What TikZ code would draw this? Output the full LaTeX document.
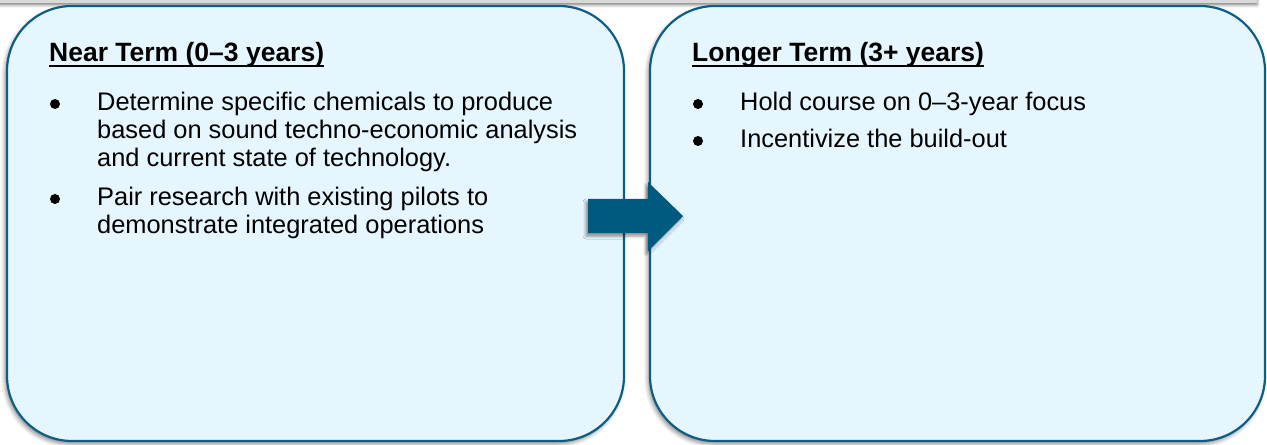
\documentclass[tikz,border=0pt]{standalone}
\usepackage{fontspec}
\setmainfont{Liberation Sans}
\usetikzlibrary{shadows.blur}
\definecolor{boxline}{RGB}{14,93,134}
\definecolor{boxfill}{RGB}{230,246,254}
\definecolor{arrowblue}{RGB}{0,90,128}
\begin{document}
\begin{tikzpicture}[x=1bp,y=-1bp]
\tikzset{
 panel/.style={draw=boxline, line width=2.2bp, fill=boxfill, rounded corners=65bp, inner sep=0pt,
   blur shadow={shadow xshift=-2bp, shadow yshift=-3bp, shadow blur radius=4bp, shadow opacity=45}},
 heading/.style={anchor=base west, inner sep=0pt, font=\fontsize{26.5bp}{30bp}\selectfont\bfseries},
 bodytext/.style={anchor=base west, inner sep=0pt, font=\fontsize{25.4bp}{28bp}\selectfont},
 bulletmark/.style={circle, fill=black, inner sep=0pt, minimum size=10bp},
 uline/.style={line width=2.4bp},
}
\useasboundingbox (0,0) rectangle (1267,445);
% top strip (bottom edge of a box above)
\fill[gray!30, blur shadow={shadow xshift=0bp, shadow yshift=-2bp, shadow blur radius=3bp, shadow opacity=50}] (-20,-30) rectangle (1257,3);
% panels
\node[panel, minimum width=617bp, minimum height=435bp] (near) at (315.5,223.5) {};
\node[panel, minimum width=615bp, minimum height=435bp] (long) at (957.5,223.5) {};
% arrow
\fill[arrowblue, blur shadow={shadow xshift=-2bp, shadow yshift=-3bp, shadow blur radius=3bp, shadow opacity=45}]
  (588,199) -- (648,199) -- (648,182) -- (683,216) -- (648,251) -- (648,233) -- (588,233) -- cycle;
% headings
\node[heading] (h1) at (49,62) {Near Term (0–3 years)};
\draw[uline] ([yshift=-4bp]h1.base west) -- ([yshift=-4bp]h1.base east);
\node[heading] (h2) at (692,62) {Longer Term (3+ years)};
\draw[uline] ([yshift=-4bp]h2.base west) -- ([yshift=-4bp]h2.base east);
% left bullets
\node[bulletmark] (b1) at (55,104) {};
\node[bodytext] (t1a) at (97,111) {Determine specific chemicals to produce};
\node[bodytext] (t1b) at (97,139) {based on sound techno-economic analysis};
\node[bodytext] (t1c) at (97,167) {and current state of technology.};
\node[bulletmark] (b2) at (55,199) {};
\node[bodytext] (t2a) at (97,206) {Pair research with existing pilots to};
\node[bodytext] (t2b) at (97,234) {demonstrate integrated operations};
% right bullets
\node[bulletmark] (b3) at (698,104) {};
\node[bodytext] (t3) at (740,111) {Hold course on 0–3-year focus};
\node[bulletmark] (b4) at (698,141) {};
\node[bodytext] (t4) at (740,148) {Incentivize the build-out};
\end{tikzpicture}
\end{document}
